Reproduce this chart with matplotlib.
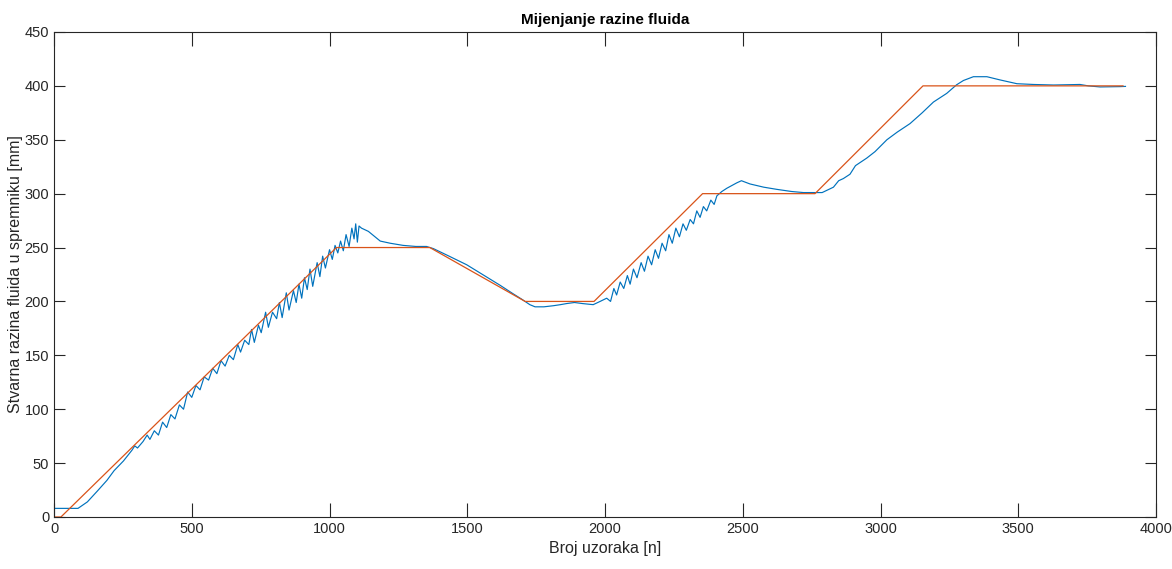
import matplotlib
matplotlib.use("Agg")
import matplotlib.pyplot as plt

# --- DATA ---
REF_N = [0, 25, 1025, 1364, 1710, 1960, 2354, 2762, 3154, 3880]
REF_LEVEL = [0, 0, 250, 250, 200, 200, 300, 300, 400, 400]

MEAS_N = [0, 87, 121, 157, 192, 218, 252, 283, 293, 303, 323, 338, 348, 364, 379,
          394, 409, 424, 439, 455, 470, 485, 500, 515, 530, 545, 561, 576, 591,
          606, 621, 636, 651, 667, 677, 692, 707, 717, 727, 742, 752, 768, 778,
          793, 808, 818, 828, 843, 853, 869, 879, 889, 899, 909, 919, 929, 939,
          955, 965, 975, 985, 1000, 1010, 1020, 1030, 1040, 1050, 1060, 1071, 1081,
          1089, 1095, 1101, 1107, 1116, 1141, 1184, 1220, 1267, 1313, 1352, 1377,
          1434, 1498, 1555, 1619, 1667, 1698, 1727, 1746, 1778, 1812, 1838, 1860,
          1889, 1919, 1957, 1982, 2006, 2020, 2032, 2042, 2055, 2068, 2081, 2091,
          2103, 2116, 2131, 2143, 2156, 2169, 2182, 2194, 2207, 2220, 2232, 2244,
          2257, 2270, 2283, 2295, 2309, 2321, 2333, 2345, 2357, 2369, 2384, 2396,
          2406, 2424, 2442, 2478, 2495, 2526, 2576, 2623, 2677, 2720, 2768, 2788,
          2829, 2848, 2865, 2889, 2909, 2950, 2980, 3023, 3060, 3107, 3151, 3192,
          3240, 3276, 3301, 3337, 3386, 3434, 3495, 3555, 3628, 3724, 3754, 3797,
          3869, 3889]
MEAS_LEVEL = [8, 8, 14, 24, 34, 43, 52, 62, 66, 64, 70, 76, 72, 80, 76,
              88, 83, 95, 91, 104, 100, 116, 111, 122, 118, 130, 127, 138, 133,
              145, 140, 150, 146, 160, 153, 164, 160, 174, 162, 178, 171, 190, 176,
              190, 184, 199, 185, 208, 192, 210, 199, 216, 203, 222, 211, 230, 214,
              236, 223, 242, 231, 248, 239, 252, 245, 256, 247, 262, 251, 268,
              258, 272, 255, 270, 268, 265, 256, 254, 252, 251, 251, 249,
              242, 234, 225, 215, 207, 202, 197, 195, 195, 196, 197, 198,
              199, 198, 197, 200, 203, 200, 212, 206, 218, 212, 224, 216,
              230, 222, 236, 228, 242, 234, 248, 240, 254, 247, 262, 254,
              268, 260, 272, 266, 276, 272, 284, 278, 288, 284, 294, 290,
              298, 302, 305, 310, 312, 309, 306, 304, 302, 301, 301, 301,
              306, 312, 314, 318, 326, 333, 339, 350, 357, 365, 375, 385,
              393, 401, 405, 408.5, 408.5, 405.5, 402, 401.3, 400.8, 401.3, 400, 399,
              399.3, 399.5]

plt.rcParams['font.family'] = ['Liberation Sans Narrow', 'Liberation Sans', 'DejaVu Sans']

fig = plt.figure(figsize=(11.72, 5.69), dpi=100)
ax = fig.add_axes([0.0461, 0.0914, 0.9403, 0.8524])

ax.plot(MEAS_N, MEAS_LEVEL, color='#0072BD', linewidth=0.85)
ax.plot(REF_N, REF_LEVEL, color='#D95319', linewidth=0.9)

ax.set_xlim(0, 4000)
ax.set_ylim(0, 450)
ax.set_xticks(range(0, 4001, 500))
ax.set_yticks(range(0, 451, 50))

ax.tick_params(axis='both', direction='in', top=True, right=True,
               labelsize=10.5, colors='#262626', width=0.8)
ax.tick_params(axis='x', length=10)
ax.tick_params(axis='y', length=8)
for s in ax.spines.values():
    s.set_color('#262626')
    s.set_linewidth(0.8)

ax.set_title('Mijenjanje razine fluida', fontsize=11, fontweight='bold', pad=6)
ax.set_xlabel('Broj uzoraka [n]', fontsize=11.5, color='#262626', labelpad=4)
ax.set_ylabel('Stvarna razina fluida u spremniku [mm]', fontsize=11.5,
              color='#262626', labelpad=1, family=['Liberation Sans', 'DejaVu Sans'])

fig.savefig('out.png', dpi=100)
